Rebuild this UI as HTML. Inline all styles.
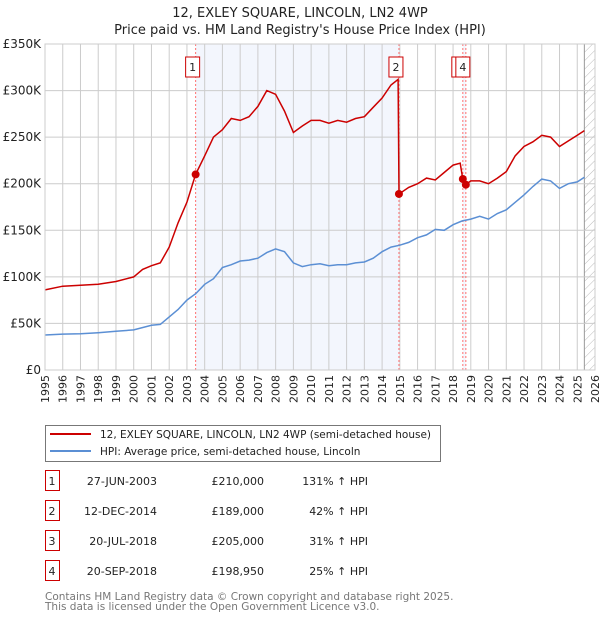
<!DOCTYPE html>
<html><head><meta charset="utf-8"><style>
body{margin:0;background:#fff;font-family:"Liberation Sans","DejaVu Sans",sans-serif;}
svg text{font-family:"DejaVu Sans","Liberation Sans",sans-serif;}
</style></head><body>
<svg id="c" width="600" height="620" xmlns="http://www.w3.org/2000/svg">
<text x="300" y="17" text-anchor="middle" font-size="13" fill="#222">12, EXLEY SQUARE, LINCOLN, LN2 4WP</text>
<text x="300" y="34" text-anchor="middle" font-size="13" fill="#222">Price paid vs. HM Land Registry's House Price Index (HPI)</text>
<g id="plot"></g>
<g>
<rect x="45.5" y="425.5" width="395" height="36" fill="#fff" stroke="#777"/>
<line x1="50" y1="434" x2="91" y2="434" stroke="#cc0000" stroke-width="2"/>
<text x="100" y="438" font-size="10.5" fill="#222">12, EXLEY SQUARE, LINCOLN, LN2 4WP (semi-detached house)</text>
<line x1="50" y1="451" x2="91" y2="451" stroke="#5b8fd4" stroke-width="2"/>
<text x="100" y="455" font-size="10.5" fill="#222">HPI: Average price, semi-detached house, Lincoln</text>
</g>
<g id="tbl"></g>
<text x="45" y="600" font-size="10.5" fill="#777">Contains HM Land Registry data © Crown copyright and database right 2025.</text>
<text x="45" y="610" font-size="10.5" fill="#777">This data is licensed under the Open Government Licence v3.0.</text>
</svg>
<script>
const hpiYears=[1995,1996,1997,1998,1999,2000,2001,2001.5,2002,2002.5,2003,2003.5,2004,2004.5,2005,2005.5,2006,2006.5,2007,2007.5,2008,2008.5,2009,2009.5,2010,2010.5,2011,2011.5,2012,2012.5,2013,2013.5,2014,2014.5,2015,2015.5,2016,2016.5,2017,2017.5,2018,2018.5,2019,2019.5,2020,2020.5,2021,2021.5,2022,2022.5,2023,2023.5,2024,2024.5,2025,2025.4];
const hpiValues=[37.6,38.5,39,40,41.5,43,48,49,57,65,75,82,92,98,110,113,117,118,120,126,130,127,115,111,113,114,112,113,113,115,116,120,127,132,134,137,142,145,151,150,156,160,162,165,162,168,172,180,188,197,205,203,195,200,202,207];
const propYears=[1995,1996,1997,1998,1999,2000,2000.5,2001,2001.5,2002,2002.5,2003,2003.49,2004,2004.5,2005,2005.5,2006,2006.5,2007,2007.5,2008,2008.5,2009,2009.5,2010,2010.5,2011,2011.5,2012,2012.5,2013,2013.5,2014,2014.5,2014.9,2014.95,2015.5,2016,2016.5,2017,2017.5,2018,2018.4,2018.55,2018.72,2019,2019.5,2020,2020.5,2021,2021.5,2022,2022.5,2023,2023.5,2024,2024.5,2025,2025.4];
const propValues=[86,90,91,92,95,100,108,112,115,132,158,180,210,230,250,258,270,268,272,283,300,296,278,255,262,268,268,265,268,266,270,272,282,292,306,312,189,196,200,206,204,212,220,222,205,199,203,203,200,206,213,230,240,245,252,250,240,246,252,257];
const saleLabels=["1","2","3","4"];
const saleYears=[2003.49,2014.95,2018.55,2018.72];
const saleValues=[210,189,205,198.95];
const saleDates=["27-JUN-2003","12-DEC-2014","20-JUL-2018","20-SEP-2018"];
const salePrices=["£210,000","£189,000","£205,000","£198,950"];
const saleHpi=["131% ↑ HPI","42% ↑ HPI","31% ↑ HPI","25% ↑ HPI"];
const yTicks=[0,50,100,150,200,250,300,350];
const yTickLabels=["£0","£50K","£100K","£150K","£200K","£250K","£300K","£350K"];
const xTicks=[];for(let y=1995;y<=2026;y++)xTicks.push(y);

const NS="http://www.w3.org/2000/svg";
const L=45,R=595,T=44,B=370;
const X=v=>L+(v-1995)/(2026-1995)*(R-L);
const Y=v=>B-v/350*(B-T);
const g=document.getElementById('plot');
function mk(tag,attrs,parent){const e=document.createElementNS(NS,tag);for(const k in attrs)e.setAttribute(k,attrs[k]);(parent||g).appendChild(e);return e;}

let e=mk('rect',{x:X(saleYears[0]),y:T,width:X(saleYears[1])-X(saleYears[0]),height:B-T,fill:'#f3f6fd'});


e=mk('rect',{x:X(saleYears[2]),y:T,width:X(saleYears[3])-X(saleYears[2]),height:B-T,fill:'#f3f6fd'});


const defs=mk('defs',{});
const pat=mk('pattern',{id:'h',width:6,height:6,patternUnits:'userSpaceOnUse',patternTransform:'rotate(45)'},defs);
mk('line',{x1:0,y1:0,x2:0,y2:6,stroke:'#bbb','stroke-width':1},pat);
e=mk('rect',{x:X(2025.4),y:T,width:R-X(2025.4),height:B-T,fill:'url(#h)'});


mk('line',{x1:X(2025.4),y1:T,x2:X(2025.4),y2:B,stroke:'#999','stroke-width':1});
xTicks.forEach(t=>{
 mk('line',{x1:X(t),y1:T,x2:X(t),y2:B,stroke:'#ccc','stroke-width':1});
 const tx=mk('text',{x:0,y:0,'font-size':11,fill:'#222','text-anchor':'end',transform:`translate(${X(t)+4},${B+5}) rotate(-90)`});
 tx.textContent=t;
 
 
});
yTicks.forEach((t,i)=>{
 mk('line',{x1:L,y1:Y(t),x2:R,y2:Y(t),stroke:'#ccc','stroke-width':1});
 const tx=mk('text',{x:L-4,y:Y(t)+4,'font-size':12,fill:'#222','text-anchor':'end'});
 tx.textContent=yTickLabels[i];
 
 
});
saleYears.forEach(s=>{
 e=mk('line',{x1:X(s),y1:T,x2:X(s),y2:B,stroke:'#ff7070','stroke-width':1,'stroke-dasharray':'2,2'});
 
 
});
const path=(xs,vs)=>xs.map((x,i)=>(i?'L':'M')+X(x).toFixed(1)+','+Y(vs[i]).toFixed(1)).join('');
e=mk('path',{d:path(hpiYears,hpiValues),fill:'none',stroke:'#5b8fd4','stroke-width':1.5});


e=mk('path',{d:path(propYears,propValues),fill:'none',stroke:'#cc0000','stroke-width':1.5});


saleYears.forEach((s,i)=>{
 e=mk('circle',{cx:X(s),cy:Y(saleValues[i]),r:4,fill:'#cc0000'});
 
 
});
saleYears.forEach((s,i)=>{
 const cx=X(s)-3-(i==2?1:0);
 e=mk('rect',{x:cx-7,y:57,width:14,height:20,fill:'#fff',stroke:'#cc0000','stroke-width':1});
 
 
 const tx=mk('text',{x:cx,y:71,'font-size':11,fill:'#222','text-anchor':'middle'});
 tx.textContent=saleLabels[i];
 
 
});
const tb=document.getElementById('tbl');
saleLabels.forEach((lab,i)=>{
 const cy=483+i*30;
 mk('rect',{x:45.5,y:cy-12.5,width:14,height:20,fill:'#fff',stroke:'#cc0000'},tb);
 let t=mk('text',{x:52,y:cy+2,'font-size':11,fill:'#222','text-anchor':'middle'},tb);t.textContent=lab;
 
 
 t=mk('text',{x:157,y:cy+2,'font-size':11,fill:'#222','text-anchor':'end'},tb);t.textContent=saleDates[i];
 
 
 t=mk('text',{x:264,y:cy+2,'font-size':11,fill:'#222','text-anchor':'end'},tb);t.textContent=salePrices[i];
 
 
 t=mk('text',{x:368,y:cy+2,'font-size':11,fill:'#222','text-anchor':'end'},tb);t.textContent=saleHpi[i];
 
 
});
mk('rect',{x:L,y:T,width:R-L,height:B-T,fill:'none',stroke:'#ccc'});
</script>
</body></html>
